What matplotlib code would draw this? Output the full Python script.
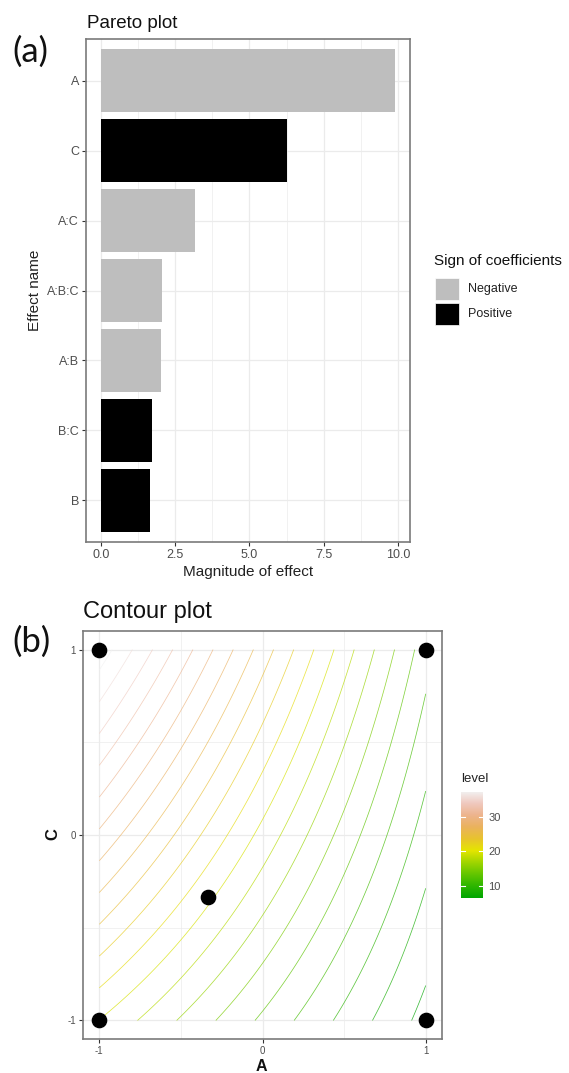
import numpy as np
import matplotlib
matplotlib.use("Agg")
import matplotlib.pyplot as plt
import colorsys
from matplotlib.colors import LinearSegmentedColormap, Normalize
from matplotlib.patches import Rectangle

# ---------------- data ----------------
effects = ["A", "C", "A:C", "A:B:C", "A:B", "B:C", "B"]
magnitudes = [9.90, 6.25, 3.17, 2.06, 2.02, 1.72, 1.65]
signs = ["Negative", "Positive", "Negative", "Negative", "Negative", "Positive", "Positive"]
sign_colors = {"Negative": "#BEBEBE", "Positive": "#000000"}

x_ticks_top = [0.0, 2.5, 5.0, 7.5, 10.0]
x_ticklabels_top = ["0.0", "2.5", "5.0", "7.5", "10.0"]

# contour model (coded units, B held at 0)
intercept = 18.86
level_step = 1.615
level_k = list(range(4, 24))
design_A = [-1, 1, -1, 1, -1 / 3]
design_C = [1, 1, -1, -1, -1 / 3]
cbar_ticks = [10, 20, 30]

# ---------------- style ----------------
W, H = 569, 1073
fig = plt.figure(figsize=(W / 100, H / 100), dpi=100)
FONT = "Liberation Sans"
plt.rcParams["font.family"] = [FONT, "DejaVu Sans"]
tick_col = "#4D4D4D"
grid_col = "#EBEBEB"
border_col = "#7A7A7A"


def fx(px):
    return px / W


def fy(py):
    return 1 - py / H


# ---------------- panel (a) ----------------
ax1 = fig.add_axes([fx(86), fy(542), fx(410) - fx(86), fy(39) - fy(542)])
ypos = [len(effects) - i for i in range(len(effects))]
ax1.barh(ypos, magnitudes, height=0.9,
         color=[sign_colors[s] for s in signs], zorder=3)
ax1.set_xlim(-0.495, 10.395)
ax1.set_ylim(0.4, 7.6)
ax1.set_xticks(x_ticks_top)
ax1.set_xticklabels(x_ticklabels_top)
ax1.set_xticks([1.25, 3.75, 6.25, 8.75], minor=True)
ax1.set_yticks(ypos)
ax1.set_yticklabels(effects)
ax1.grid(True, which="major", color=grid_col, lw=0.9, zorder=0)
ax1.grid(True, which="minor", axis="x", color=grid_col, lw=0.5, zorder=0)
ax1.set_axisbelow(True)
ax1.tick_params(which="major", length=3, width=0.8, color="#333333",
                labelsize=9, labelcolor=tick_col, pad=2)
ax1.tick_params(which="minor", length=0)
for s in ax1.spines.values():
    s.set_color(border_col)
    s.set_linewidth(1.2)
ax1.set_xlabel("Magnitude of effect", fontsize=11, color="#222222", labelpad=3)
ax1.set_ylabel("Effect name", fontsize=11, color="#222222", labelpad=3)
fig.text(fx(87), fy(28), "Pareto plot", fontsize=13.5, color="#111111",
         ha="left", va="baseline")
fig.text(fx(12), fy(62), "(a)", fontsize=25, family="Lato", color="#111111",
         ha="left", va="baseline")

# legend
fig.text(fx(434), fy(261), "Sign of coefficients", fontsize=11,
         color="#111111", ha="left", va="center")
for i, lab in enumerate(["Negative", "Positive"]):
    top = 278 + i * 25
    fig.patches.append(Rectangle((fx(435), fy(top + 22)), fx(24), fy(top) - fy(top + 22),
                                 transform=fig.transFigure,
                                 facecolor=sign_colors[lab], edgecolor="white", lw=0.5))
    fig.text(fx(468), fy(top + 11), lab, fontsize=9, color="#222222",
             ha="left", va="center")

# ---------------- panel (b) ----------------
def terrain_colors(n):
    k = n // 2
    cols = []
    hs = np.linspace(4 / 12, 2 / 12, k)
    vs = np.linspace(0.65, 0.9, k)
    for h, v in zip(hs, vs):
        cols.append(colorsys.hsv_to_rgb(h, 1, v))
    hs2 = np.linspace(2 / 12, 0, n - k + 1)[1:]
    ss2 = np.linspace(1, 0, n - k + 1)[1:]
    vs2 = np.linspace(0.9, 0.95, n - k + 1)[1:]
    for h, s, v in zip(hs2, ss2, vs2):
        cols.append(colorsys.hsv_to_rgb(h, s, v))
    return cols


cmap = LinearSegmentedColormap.from_list("terrain_r", terrain_colors(10))
levels = [k * level_step for k in level_k]
norm = Normalize(vmin=min(levels), vmax=max(levels))

coef = {e: m * (1 if s == "Positive" else -1) for e, m, s in zip(effects, magnitudes, signs)}

ax2 = fig.add_axes([fx(83), fy(1039), fx(442) - fx(83), fy(631) - fy(1039)])
ga = np.linspace(-1, 1, 301)
gc = np.linspace(-1, 1, 301)
AG, CG = np.meshgrid(ga, gc)
Z = intercept + coef["A"] * AG + coef["C"] * CG + coef["A:C"] * AG * CG
ax2.contour(AG, CG, Z, levels=levels, cmap=cmap, norm=norm, linewidths=0.55,
            alpha=0.75, zorder=3)
ax2.scatter(design_A, design_C, s=105, color="black", zorder=5, clip_on=False)
ax2.set_xlim(-1.1, 1.1)
ax2.set_ylim(-1.1, 1.1)
ax2.set_xticks([-1, 0, 1])
ax2.set_yticks([-1, 0, 1])
ax2.set_xticklabels(["-1", "0", "1"])
ax2.set_yticklabels(["-1", "0", "1"])
ax2.set_xticks([-0.5, 0.5], minor=True)
ax2.set_yticks([-0.5, 0.5], minor=True)
ax2.grid(True, which="major", color=grid_col, lw=0.9, zorder=0)
ax2.grid(True, which="minor", color=grid_col, lw=0.5, zorder=0)
ax2.set_axisbelow(True)
ax2.tick_params(which="major", length=3, width=0.8, color="#333333",
                labelsize=7, labelcolor=tick_col, pad=2)
ax2.tick_params(which="minor", length=0)
for s in ax2.spines.values():
    s.set_color(border_col)
    s.set_linewidth(1.2)
fig.text(fx(53), fy(834), "C", fontsize=12, fontweight="bold", rotation=90,
         ha="center", va="center", color="#111111")
fig.text(fx(261), fy(1059), "A", fontsize=11.5, fontweight="bold",
         ha="center", va="top", color="#111111")
fig.text(fx(83), fy(618), "Contour plot", fontsize=17, color="#111111",
         ha="left", va="baseline")
fig.text(fx(12), fy(652), "(b)", fontsize=25, family="Lato", color="#111111",
         ha="left", va="baseline")

# colorbar
cax = fig.add_axes([fx(461), fy(898), fx(483) - fx(461), fy(792) - fy(898)])
grad = np.linspace(norm.vmin, norm.vmax, 256).reshape(-1, 1)
cax.imshow(grad, aspect="auto", cmap=cmap, norm=norm, origin="lower",
           extent=[0, 1, norm.vmin, norm.vmax])
cax.set_xlim(0, 1)
cax.set_ylim(norm.vmin, norm.vmax)
cax.set_xticks([])
cax.yaxis.tick_right()
cax.set_yticks(cbar_ticks)
cax.set_yticklabels([str(t) for t in cbar_ticks])
cax.tick_params(axis="y", length=0, labelsize=8, labelcolor=tick_col, pad=4)
for t in cbar_ticks:
    cax.plot([0, 0.2], [t, t], color="white", lw=0.8)
    cax.plot([0.8, 1], [t, t], color="white", lw=0.8)
for s in cax.spines.values():
    s.set_visible(False)
fig.text(fx(461), fy(779), "level", fontsize=9.5, color="#222222",
         ha="left", va="center")

fig.savefig("out.png", dpi=100, facecolor="white")
